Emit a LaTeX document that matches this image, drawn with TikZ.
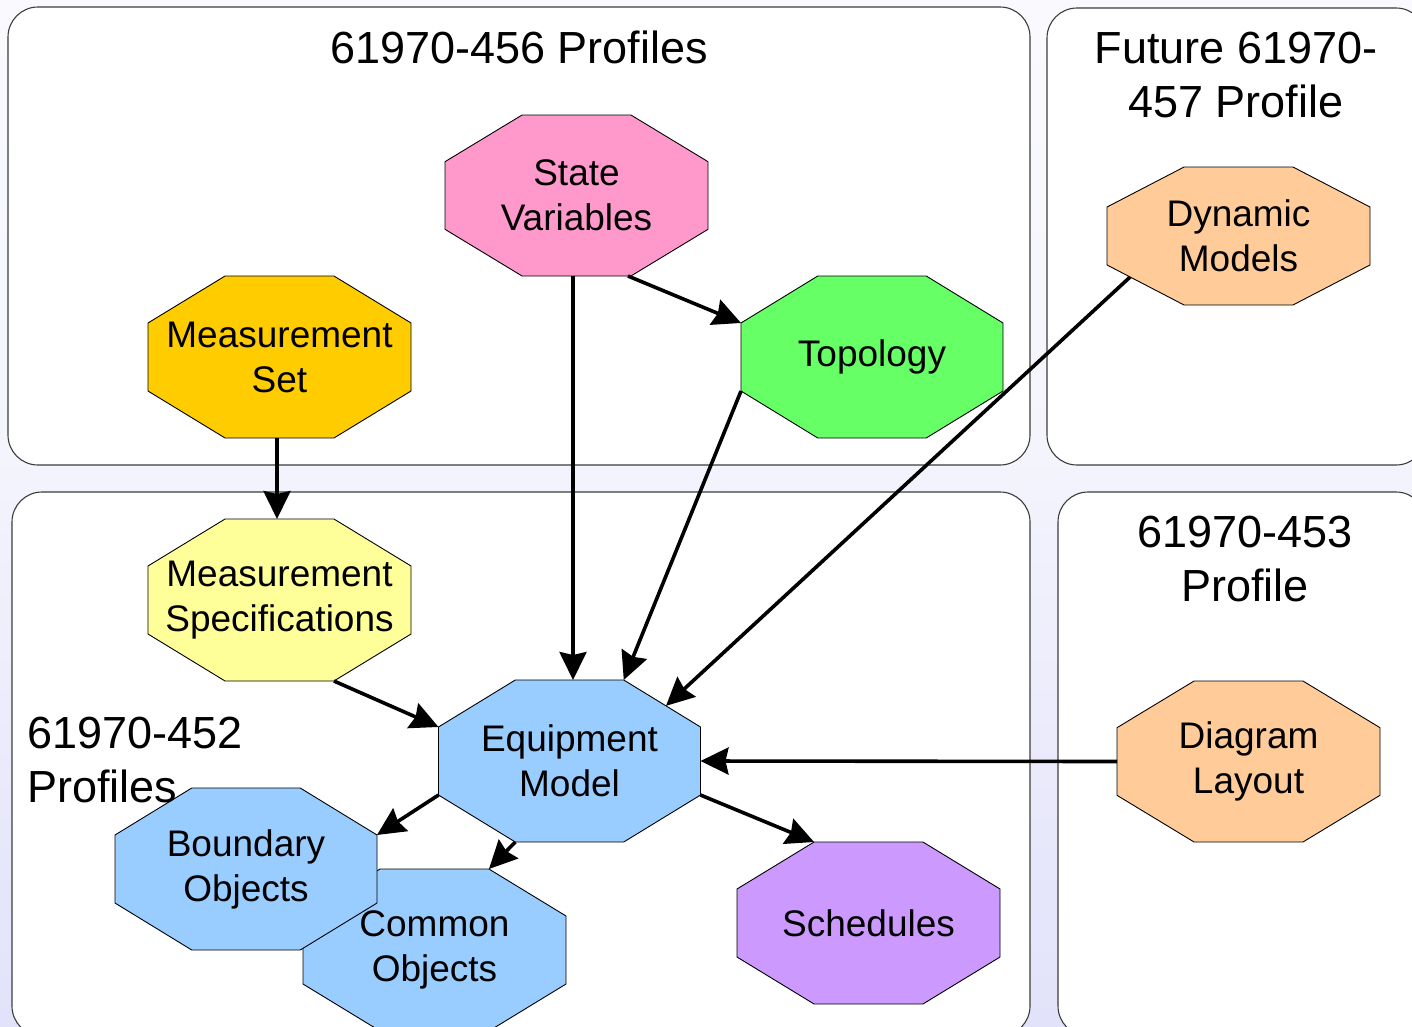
\documentclass[tikz,border=0pt]{standalone}
\usepackage{fontspec}
\setmainfont{Liberation Sans}
\usetikzlibrary{calc,arrows.meta}

\definecolor{panelline}{RGB}{60,60,60}
\definecolor{bglow}{RGB}{212,212,248}
\definecolor{bgmid}{RGB}{224,224,250}
\definecolor{bghigh}{RGB}{244,244,253}
\definecolor{cpink}{RGB}{255,153,204}
\definecolor{cgold}{RGB}{255,204,0}
\definecolor{cgreen}{RGB}{102,255,102}
\definecolor{cpeach}{RGB}{255,204,153}
\definecolor{clemon}{RGB}{255,255,153}
\definecolor{cblue}{RGB}{153,204,255}
\definecolor{cviolet}{RGB}{204,153,255}

\pgfdeclareverticalshading{backfade}{100bp}{color(0bp)=(bglow); color(22bp)=(bgmid); color(53bp)=(bghigh); color(100bp)=(white)}

\pgfdeclarelayer{back}
\pgfsetlayers{back,main}

\tikzset{
  panel/.style={fill=white, draw=panelline, line width=1.1pt, rounded corners=30pt},
  title/.style={font=\fontsize{45}{54}\selectfont, align=center, inner sep=0pt},
  octbox/.style={rectangle, inner sep=0pt, outer sep=0pt, align=center,
    font=\fontsize{37}{45}\selectfont},
  octline/.style={draw=black, line width=0.9pt},
  arr/.style={line width=3.6pt, -{Stealth[length=28pt,width=27pt,inset=3pt]}},
}

% octagon label: name, centre, width, height, fill colour, text
\newcommand\octnode[6]{%
  \node[octbox, minimum width=#3, minimum height=#4] (#1) at #2 {#6};
  \coordinate (#1-nw) at ($(#1.north west)!0.293!(#1.north east)$);
  \coordinate (#1-ne) at ($(#1.north west)!0.707!(#1.north east)$);
  \coordinate (#1-en) at ($(#1.north east)!0.29!(#1.south east)$);
  \coordinate (#1-es) at ($(#1.north east)!0.71!(#1.south east)$);
  \coordinate (#1-se) at ($(#1.south west)!0.707!(#1.south east)$);
  \coordinate (#1-sw) at ($(#1.south west)!0.293!(#1.south east)$);
  \coordinate (#1-ws) at ($(#1.north west)!0.71!(#1.south west)$);
  \coordinate (#1-wn) at ($(#1.north west)!0.29!(#1.south west)$);
  \begin{pgfonlayer}{back}
    \path[octline, fill=#5] (#1-nw) -- (#1-ne) -- (#1-en) -- (#1-es) --
      (#1-se) -- (#1-sw) -- (#1-ws) -- (#1-wn) -- cycle;
  \end{pgfonlayer}
}

\begin{document}
\begin{tikzpicture}[x=1pt, y=-1pt]
  \clip (0,0) rectangle (1412,1026);

  \begin{pgfonlayer}{back}
    \shade[shading=backfade] (0,0) rectangle (1412,1026);
    % profile panels
    \path[panel] (8,7) rectangle (1030,465);
    \path[panel] (1047,8) rectangle (1426,465);
    \path[panel] (12,492) rectangle (1030,1036);
    \path[panel] (1058,492) rectangle (1426,1036);
  \end{pgfonlayer}

  % panel titles
  \node[title] (t456) at (519,47) {61970-456 Profiles};
  \node[title] (t457) at (1236,75) {Future 61970-\\457 Profile};
  \node[title] (t453) at (1245,559) {61970-453\\Profile};
  \node[title, align=left, anchor=west] (t452) at (27,760) {61970-452\\Profiles};

  % packages
  \octnode{sv}{(576.5,195.5)}{263pt}{161pt}{cpink}{State\\Variables}
  \octnode{ms}{(279.5,357)}{263pt}{162pt}{cgold}{Measurement\\Set}
  \octnode{topo}{(872,357)}{262pt}{162pt}{cgreen}{\raisebox{-3pt}{Topology}}
  \octnode{dyn}{(1238.5,236)}{263pt}{138pt}{cpeach}{Dynamic\\Models}
  \octnode{msp}{(279.5,600)}{263pt}{162pt}{clemon}{Measurement\\Specifications}
  \octnode{eq}{(569.5,761)}{262pt}{162pt}{cblue}{Equipment\\Model}
  \octnode{dl}{(1248.5,761.5)}{263pt}{161pt}{cpeach}{Diagram\\Layout}
  \octnode{co}{(434.5,950)}{263pt}{162pt}{cblue}{Common\\Objects}
  \octnode{bo}{(246,869)}{262pt}{162pt}{cblue}{Boundary\\Objects}
  \octnode{sch}{(868.5,923)}{263pt}{162pt}{cviolet}{Schedules}

  % dependencies
  \draw[arr] ($(ms.south)+(-2.5,0)$) -- ($(msp.north)+(-2.5,0)$);
  \draw[arr] ($(sv.south)+(-3.5,0)$) -- ($(eq.north)+(3.5,0)$);
  \draw[arr] ($(sv-se)+(-3,0)$) -- (topo-wn);
  \draw[arr] (topo-ws) -- (eq-ne);
  \draw[arr] ($(dyn-ws)!0.3!(dyn-sw)$) -- ($(eq-ne)!0.55!(eq-en)$);
  \draw[arr] (msp-se) -- (eq-wn);
  \draw[arr] (dl.west) -- (eq.east);
  \draw[arr] (eq-ws) -- (bo-en);
  \draw[arr] (eq-sw) -- (co-ne);
  \draw[arr] (eq-es) -- (sch-nw);
\end{tikzpicture}
\end{document}
